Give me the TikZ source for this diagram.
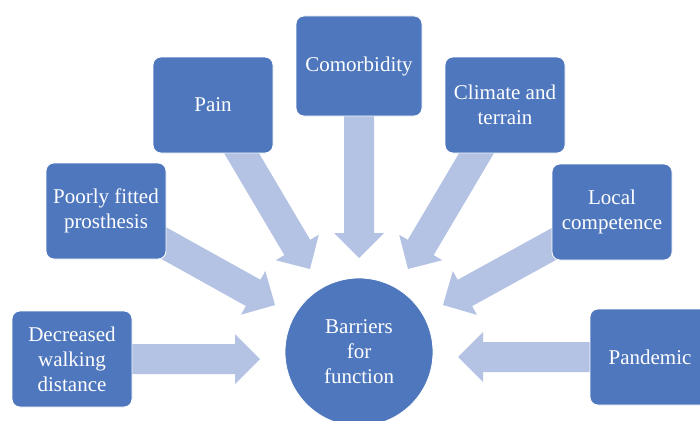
\documentclass[tikz,border=0pt]{standalone}
\usepackage{fontspec}
\setmainfont{Liberation Serif}
\usetikzlibrary{calc}
\pgfdeclarelayer{bg}
\pgfsetlayers{bg,main}
\definecolor{boxblue}{RGB}{79,119,189}
\definecolor{arrowblue}{RGB}{180,194,228}
\newcommand{\blockarrow}[2]{%
  \coordinate (hb) at ($(#2)!25pt!(#1)$);
  \fill[arrowblue] ($(#1)!15pt!90:(#2)$) -- ($(hb)!15pt!-90:(#1)$) -- ($(hb)!25pt!-90:(#1)$)
    -- (#2) -- ($(hb)!25pt!90:(#1)$) -- ($(hb)!15pt!90:(#1)$) -- ($(#1)!15pt!-90:(#2)$) -- cycle;
}
\tikzset{
  factor/.style={draw=white, line width=0.8pt, fill=boxblue, rounded corners=8pt,
    minimum width=120pt, minimum height=96pt, inner sep=0pt, text=white, align=center,
    font=\fontsize{21}{25}\selectfont},
  hub/.style={circle, draw=white, line width=0.8pt, fill=boxblue, minimum size=148pt,
    inner sep=0pt, text=white, align=center, font=\fontsize{21}{25}\selectfont}
}
\begin{document}
\begin{tikzpicture}[x=1pt,y=-1pt]
\clip (0,0) rectangle (700,420);
\node[hub] (circ) at (359,352) {Barriers\\for\\function};
\node[factor] (dec) at (72,359) {Decreased\\walking\\distance};
\node[factor] (poor) at (106,211) {Poorly fitted\\prosthesis};
\node[factor] (pain) at (213,105) {Pain};
\node[factor, minimum width=126pt, minimum height=100pt] (com) at (359,66) {Comorbidity};
\node[factor] (cli) at (505,105) {Climate and\\terrain};
\node[factor] (loc) at (612,212) {Local\\competence};
\node[factor] (pan) at (650,357) {Pandemic};
\coordinate (tdec) at (260,359);
\coordinate (tpoor) at (275,305);
\coordinate (tpain) at (310,269);
\coordinate (tcom) at (359,258);
\coordinate (tcli) at (408,269);
\coordinate (tloc) at (443,305);
\coordinate (tpan) at (458,357);
\begin{pgfonlayer}{bg}
\fill[white] (0,0) rectangle (700,420);
\blockarrow{dec}{tdec}
\blockarrow{poor}{tpoor}
\blockarrow{pain}{tpain}
\blockarrow{com}{tcom}
\blockarrow{cli}{tcli}
\blockarrow{loc}{tloc}
\blockarrow{pan}{tpan}
\end{pgfonlayer}
\end{tikzpicture}
\end{document}
